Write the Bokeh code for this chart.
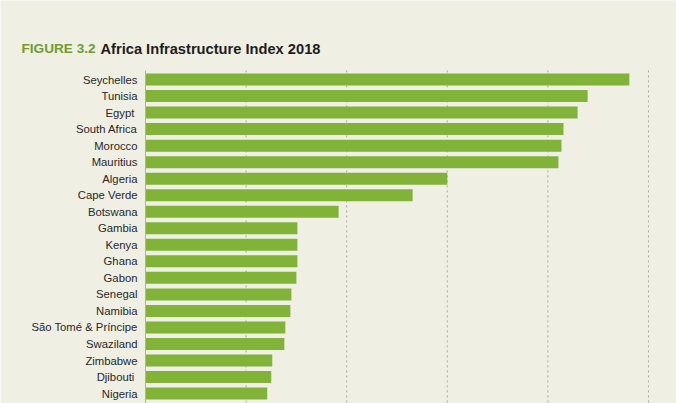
from bokeh.core.properties import value
from bokeh.embed import file_html
from bokeh.models import FixedTicker, Label, Range1d
from bokeh.plotting import figure
from bokeh.resources import INLINE

countries = ["Seychelles", "Tunisia", "Egypt ", "South Africa", "Morocco", "Mauritius",
             "Algeria", "Cape Verde", "Botswana", "Gambia", "Kenya", "Ghana", "Gabon",
             "Senegal", "Namibia", "São Tomé & Príncipe", "Swaziland", "Zimbabwe",
             "Djibouti ", "Nigeria"]
scores = [96.2, 87.9, 85.9, 83.1, 82.7, 82.1, 60.0, 53.1, 38.4, 30.2, 30.2, 30.2, 30.0,
          29.0, 28.8, 27.8, 27.6, 25.2, 25.0, 24.2]
x_ticks = [20, 40, 60, 80, 100]
rows = list(range(len(countries)))

BG = "#eff0e3"
FONT = "Liberation Sans"

# the frame covers the whole canvas, labels get clipped to it otherwise
p = figure(width=676, height=403, output_backend="svg", toolbar_location=None,
           x_range=Range1d(-28.83, 105.57), y_range=Range1d(19.6, -4.78),
           x_axis_location=None, min_border=0,
           background_fill_color=BG, border_fill_color=BG, outline_line_color=None)
p.grid.visible = False

# dashed guides, they stop below the title
p.segment(x0=x_ticks, x1=x_ticks, y0=[-0.55] * len(x_ticks), y1=[19.6] * len(x_ticks),
          line_color="#a9a9a2", line_dash=value([2, 3]), line_width=1)

p.hbar(y=rows, left=0, right=scores, height=0.726, color="#80b338", line_color=None)

axis = p.yaxis[0]
axis.fixed_location = 0
axis.bounds = (-0.55, 19.6)
axis.ticker = FixedTicker(ticks=rows)
axis.major_label_overrides = dict(zip(rows, countries))
axis.axis_line_color = "#b0b0ac"
axis.axis_line_width = 1
axis.major_tick_line_color = None
axis.minor_tick_line_color = None
axis.major_tick_out = 0
axis.major_tick_in = 0
axis.major_label_standoff = 8
axis.major_label_text_font = FONT
axis.major_label_text_font_size = "11.3px"
axis.major_label_text_color = "#2a2628"

p.add_layout(Label(x=21, y=355, x_units="screen", y_units="screen", text="FIGURE 3.2",
                   text_font=FONT, text_font_size="13.6px", text_font_style="bold",
                   text_color="#6f9a35", text_baseline="alphabetic"))
p.add_layout(Label(x=100, y=355, x_units="screen", y_units="screen",
                   text="Africa Infrastructure Index 2018",
                   text_font=FONT, text_font_size="14.66px", text_font_style="bold",
                   text_color="#1f1c20", text_baseline="alphabetic"))

open("out.html", "w").write(file_html(p, INLINE))
